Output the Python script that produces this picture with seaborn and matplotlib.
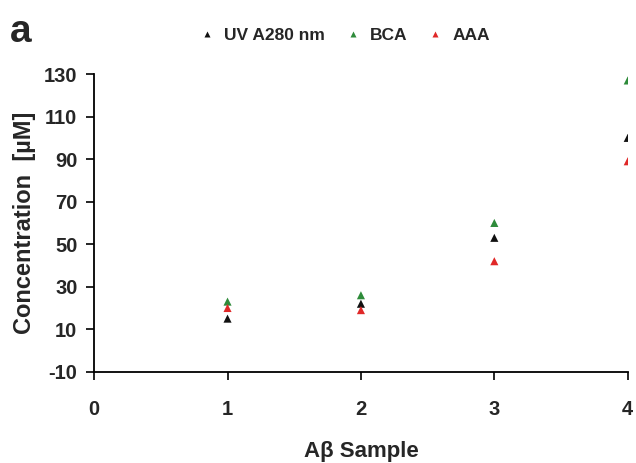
import matplotlib
matplotlib.use("Agg")
import matplotlib.pyplot as plt
import seaborn as sns
import pandas as pd

samples = [1, 2, 3, 4]
uv_a280 = [15, 22, 53, 100]
bca = [23, 26, 60, 127]
aaa = [20, 19, 42, 89]
series_names = ["UV A280 nm", "BCA", "AAA"]
colors = ["#111111", "#2e8b3a", "#e02828"]
y_ticks = [-10, 10, 30, 50, 70, 90, 110, 130]
x_ticks = [0, 1, 2, 3, 4]

df = pd.DataFrame({
    "sample": samples * 3,
    "value": uv_a280 + bca + aaa,
    "method": [series_names[0]] * 4 + [series_names[1]] * 4 + [series_names[2]] * 4,
})

sns.set_style("white")
plt.rcParams["font.family"] = ["Liberation Sans", "DejaVu Sans"]
plt.rcParams["font.weight"] = "bold"

fig = plt.figure(figsize=(6.36, 4.63), dpi=100)
ax = fig.add_axes([0.148, 0.197, 0.839, 0.643])

sns.scatterplot(data=df, x="sample", y="value", hue="method", palette=colors,
                marker="^", s=34, edgecolor="none", ax=ax, legend=True, zorder=3)

ax.set_xlim(0, 4)
ax.set_ylim(-10, 130)
ax.set_xticks(x_ticks)
ax.set_yticks(y_ticks)
ax.set_xticklabels([str(t) for t in x_ticks], fontsize=14.5, fontweight="bold")
ax.set_yticklabels([str(t) for t in y_ticks], fontsize=14.5, fontweight="bold")
for s in ["top", "right"]:
    ax.spines[s].set_visible(False)
for s in ["left", "bottom"]:
    ax.spines[s].set_color("black")
    ax.spines[s].set_linewidth(1.3)
ax.tick_params(axis="both", which="major", bottom=True, left=True, direction="out",
               length=6, width=1.2, color="black")
ax.tick_params(axis="y", pad=6)
ax.tick_params(axis="x", pad=14)
ax.set_xlabel("Aβ Sample", fontsize=16, fontweight="bold", labelpad=16)
ax.set_ylabel("Concentration  [µM]", fontsize=17, fontweight="bold", labelpad=6)
for sp in ax.spines.values():
    sp.set_clip_on(False)

leg = ax.legend(loc="center", bbox_to_anchor=(0.46, 1.13), ncol=3, frameon=False,
                handletextpad=0.0, columnspacing=0.6, markerscale=0.8,
                prop={"size": 12.5, "weight": "bold"})

fig.text(0.015, 0.91, "a", fontsize=28, fontweight="bold")

fig.savefig("out.png", dpi=100)
